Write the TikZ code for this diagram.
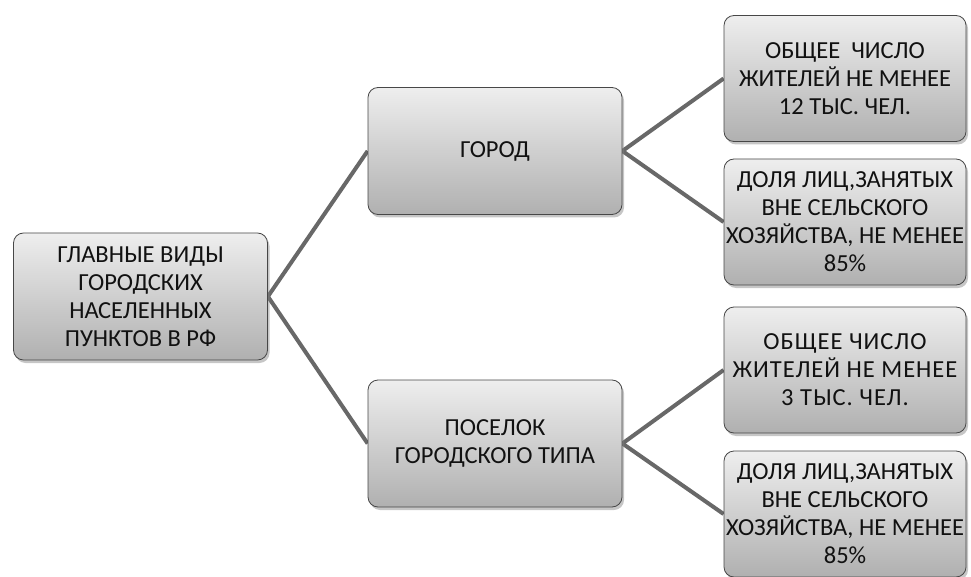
\documentclass[tikz,border=0pt]{standalone}
\usepackage{fontspec}
\setmainfont{Carlito}
\usepackage{tikz}
\usetikzlibrary{
    shapes, arrows.meta, positioning, calc,
    shadows, backgrounds
}
\definecolor{boxTop}{HTML}{EEEEEE}
\definecolor{boxBottom}{HTML}{B0B0B0}
\definecolor{borderGray}{HTML}{474747}
\definecolor{lineGray}{HTML}{686868}
\definecolor{textDark}{HTML}{111111}
\tikzset{
    infoBox/.style={rounded corners=10pt, draw=borderGray, line width=0.8pt,
        top color=boxTop, bottom color=boxBottom,
        minimum width=254pt, minimum height=127pt, inner xsep=0pt, inner ysep=2pt,
        align=center, text=textDark,
        font=\fontsize{24.5}{28}\selectfont,
        drop shadow={shadow xshift=2pt, shadow yshift=-3pt, opacity=0.45}},
    smallBox/.style={infoBox, minimum width=242pt, minimum height=126pt},
    wideBox/.style={smallBox, font=\fontsize{24.5}{28}\selectfont\addfontfeature{LetterSpace=4}},
    linkLine/.style={draw=lineGray, line width=4pt}
}

\begin{document}
\begin{tikzpicture}[x=1pt, y=-1pt]
        \useasboundingbox (0,0) rectangle (971,577);

        % Level 1
        \node[infoBox] (root) at (140.5, 296.5) {ГЛАВНЫЕ ВИДЫ\\ГОРОДСКИХ\\НАСЕЛЕННЫХ\\ПУНКТОВ В РФ};
        % Level 2
        \node[infoBox] (city) at (495, 151) {ГОРОД};
        \node[infoBox] (town) at (495, 443.5) {ПОСЕЛОК\\ГОРОДСКОГО ТИПА};
        % Level 3
        \node[smallBox] (cityPop) at (845, 78.5) {ОБЩЕЕ\ \ ЧИСЛО\\ЖИТЕЛЕЙ НЕ МЕНЕЕ\\12 ТЫС. ЧЕЛ.};
        \node[smallBox] (cityWork) at (845, 222) {ДОЛЯ ЛИЦ,ЗАНЯТЫХ\\ВНЕ СЕЛЬСКОГО\\ХОЗЯЙСТВА, НЕ МЕНЕЕ\\85\%};
        \node[wideBox] (townPop) at (845, 370) {ОБЩЕЕ ЧИСЛО\\ЖИТЕЛЕЙ НЕ МЕНЕЕ\\3 ТЫС. ЧЕЛ.};
        \node[smallBox] (townWork) at (845, 514) {ДОЛЯ ЛИЦ,ЗАНЯТЫХ\\ВНЕ СЕЛЬСКОГО\\ХОЗЯЙСТВА, НЕ МЕНЕЕ\\85\%};

        % Connectors
        \begin{scope}[on background layer]
            \draw[linkLine] (root.east) -- (city.west);
            \draw[linkLine] (root.east) -- (town.west);
            \draw[linkLine] (city.east) -- (cityPop.west);
            \draw[linkLine] (city.east) -- (cityWork.west);
            \draw[linkLine] (town.east) -- (townPop.west);
            \draw[linkLine] (town.east) -- (townWork.west);
        \end{scope}
    \end{tikzpicture}
\end{document}
